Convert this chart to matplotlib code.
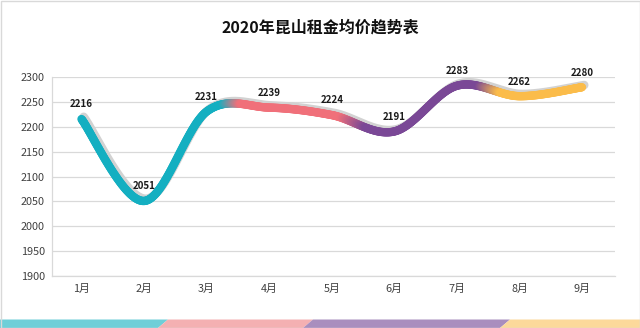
import numpy as np
import matplotlib
matplotlib.use("Agg")
import matplotlib.pyplot as plt
from matplotlib.collections import LineCollection
from matplotlib.patches import Polygon, Rectangle
import matplotlib.transforms as mtransforms
from matplotlib.colors import to_rgb

plt.rcParams['font.family'] = ['Noto Sans CJK SC', 'DejaVu Sans']

title = "2020年昆山租金均价趋势表"
months = ["1月", "2月", "3月", "4月", "5月", "6月", "7月", "8月", "9月"]
rents = [2216, 2051, 2231, 2239, 2224, 2191, 2283, 2262, 2280]
y_ticks = [1900, 1950, 2000, 2050, 2100, 2150, 2200, 2250, 2300]

W, H = 640, 328
fig = plt.figure(figsize=(W / 100, H / 100), dpi=100)
fig.patch.set_facecolor("white")

# plot area in pixels
left_px, right_px, top_px, bottom_px = 51.7, 615, 77.3, 276
ax = fig.add_axes([left_px / W, 1 - bottom_px / H,
                   (right_px - left_px) / W, (bottom_px - top_px) / H])
x = np.arange(1, len(months) + 1)
ax.set_xlim(1 - 29.8 / 62.6, 9 + 33 / 62.6)
ax.set_ylim(1900, 2300)

for s in ["top", "right"]:
    ax.spines[s].set_visible(False)
for s in ["left", "bottom"]:
    ax.spines[s].set_color("#D9D9D9")
    ax.spines[s].set_linewidth(0.9)
ax.set_yticks(y_ticks)
ax.set_xticks(x)
ax.set_xticklabels(months)
ax.tick_params(axis="both", length=0, labelsize=7.8, colors="#404040")
ax.tick_params(axis="y", pad=5.0)
ax.tick_params(axis="x", pad=6)
ax.grid(axis="y", color="#D9D9D9", linewidth=0.9)
ax.set_axisbelow(True)


# Smoothed curve (Bezier through points, control points at 1/6 of neighbour span)
def smooth(xs, ys, n=60):
    P = np.column_stack([xs, ys]).astype(float)
    out = []
    for i in range(len(P) - 1):
        p0 = P[i - 1] if i > 0 else P[i]
        p1, p2 = P[i], P[i + 1]
        p3 = P[i + 2] if i + 2 < len(P) else P[i + 1]
        c1 = p1 + (p2 - p0) / 6
        c2 = p2 - (p3 - p1) / 6
        t = np.linspace(0, 1, n, endpoint=(i == len(P) - 2))[:, None]
        out.append((1 - t) ** 3 * p1 + 3 * (1 - t) ** 2 * t * c1
                   + 3 * (1 - t) * t ** 2 * c2 + t ** 3 * p2)
    return np.vstack(out)


curve = smooth(x, rents)

# colour stops along x
stops = [(1.0, "#14AFC1"), (3.25, "#14AFC1"), (3.55, "#F0707A"),
         (5.15, "#F0707A"), (5.55, "#7A4896"), (7.35, "#7A4896"),
         (7.7, "#FBBC4A"), (9.0, "#FBBC4A")]
sx = np.array([s[0] for s in stops])
sc = np.array([to_rgb(s[1]) for s in stops])


def color_at(v):
    return [np.interp(v, sx, sc[:, k]) for k in range(3)]


segs = np.stack([curve[:-1], curve[1:]], axis=1)
mids = (curve[:-1, 0] + curve[1:, 0]) / 2
cols = [color_at(v) for v in mids]

# soft grey shadow offset up-right
shadow_tr = mtransforms.offset_copy(ax.transData, fig=fig, x=2.2, y=2.2, units="dots")
ax.plot(curve[:, 0], curve[:, 1], color="#D2D2D2", lw=6.2,
        solid_capstyle="round", transform=shadow_tr, clip_on=False, zorder=2)

lc = LineCollection(segs, colors=cols, linewidths=6.0, capstyle="round",
                    joinstyle="round", clip_on=False, zorder=3)
ax.add_collection(lc)

for xi, v in zip(x, rents):
    ax.annotate(str(v), (xi, v), xytext=(0, 10.5), textcoords="offset points",
                ha="center", va="center", fontsize=7, fontweight="bold",
                color="#1A1A1A", zorder=5, annotation_clip=False)

fig.text(0.5, 1 - 28 / H, title, ha="center", va="center",
         fontsize=11.5, fontweight="bold", color="#111111")

# decorative band along the bottom edge
band_y0, band_y1 = 1 - 328 / H, 1 - 319.5 / H
edges = [0, 163, 308, 505, W + 10]
band_cols = ["#6FCFD8", "#F4B0B2", "#A98EBE", "#FCD99B"]
slant = 5
for i, c in enumerate(band_cols):
    a, b = edges[i], edges[i + 1]
    a_bot = a - slant if i > 0 else -10
    a_top = a + slant if i > 0 else -10
    poly = [(a_bot / W, band_y0), ((b - slant) / W, band_y0),
            ((b + slant) / W, band_y1), (a_top / W, band_y1)]
    fig.patches.append(Polygon(poly, closed=True, facecolor=c, edgecolor="none",
                               transform=fig.transFigure, figure=fig))

# thin frame around the picture
fig.patches.append(Rectangle((0.5 / W, 0.5 / H), (W - 1) / W, (H - 1) / H,
                             fill=False, edgecolor="#D9D9D9", linewidth=1.0,
                             transform=fig.transFigure, figure=fig))

fig.savefig("out.png", dpi=100)
